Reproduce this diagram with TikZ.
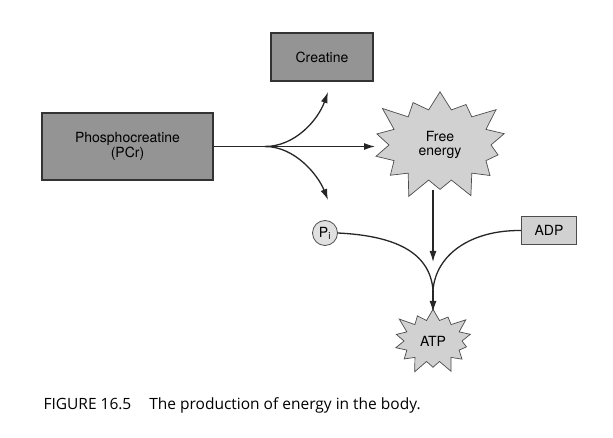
\documentclass[tikz,border=0pt]{standalone}
\usepackage{fontspec}
\setmainfont{TeX Gyre Heros}
\newfontfamily\capfont{Open Sans}
\usetikzlibrary{shapes.symbols,arrows.meta}
\begin{document}
\begin{tikzpicture}[x=1pt,y=-1pt,
  box/.style={draw=black!80,line width=1.2pt,inner sep=0pt},
  star/.style={starburst,draw=black!70,fill=black!18,line width=0.7pt,starburst points=14,starburst point height=24pt,inner sep=0pt},
  arr/.style={line width=1.3pt,draw=black!85,-{Latex[length=11pt,width=7pt]}},
  lin/.style={line width=1.3pt,draw=black!85}]
\useasboundingbox (0,0) rectangle (613,438);
\node[box,fill=black!42,minimum width=171pt,minimum height=67pt,align=center,font=\fontsize{14}{15}\selectfont] (pcr) at (127.5,146.5) {Phosphocreatine\\(PCr)};
\node[box,fill=black!42,minimum width=102pt,minimum height=48pt,font=\fontsize{14}{15}\selectfont] (cr) at (322,57) {Creatine};
\node[star,minimum width=150pt,minimum height=120pt,align=center,font=\fontsize{14}{13.5}\selectfont] (fe) at (440,145) {Free\\energy};
\node[circle,draw=black!70,fill=black!12,line width=0.8pt,minimum size=25pt,inner sep=0pt,font=\fontsize{14}{15}\selectfont] (pi) at (325,233) {P\textsubscript{i}};
\node[box,draw=black!70,fill=black!18,line width=0.8pt,minimum width=55pt,minimum height=28pt,font=\fontsize{14}{15}\selectfont] (adp) at (549,230.5) {ADP};
\node[star,starburst point height=15pt,minimum width=88pt,minimum height=72pt,font=\fontsize{14}{15}\selectfont] (atp) at (433,341) {ATP};
\coordinate (b) at (265,146.5);
\coordinate (m) at (433,290);
\draw[lin] (pcr.east) -- (b);
\draw[arr] (b) .. controls (295,146.5) and (318,120) .. (328,92);
\draw[arr] (b) -- (375,146.5);
\draw[arr] (b) .. controls (295,146.5) and (318,175) .. (328,200);
\draw[arr] (433,190) -- (433,262);
\draw[lin] (pi.east) .. controls (400,236) and (430,255) .. (m);
\draw[lin] (adp.west) .. controls (470,230) and (436,255) .. (m);
\draw[arr] (m) -- (433,312);
\node[anchor=west,font=\capfont\fontsize{15.5}{17}\selectfont] (cap) at (40,405) {FIGURE 16.5\hspace{0.9em} The production of energy in the body.};
\end{tikzpicture}
\end{document}
